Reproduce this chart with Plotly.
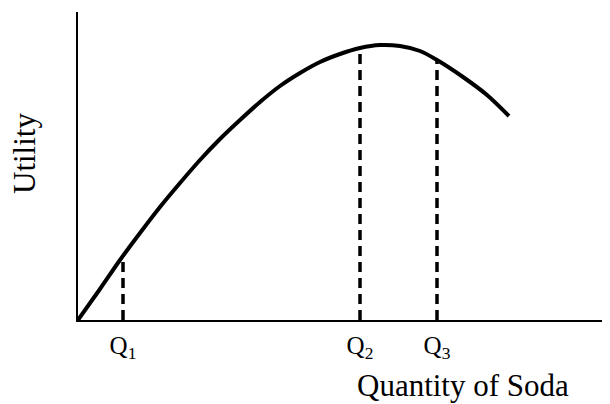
import plotly.graph_objects as go

# Utility curve (quantity vs utility, in chart units)
quantity = [0, 22, 42, 62, 82, 102, 122, 142, 162, 182, 202, 222, 242, 262, 282,
            302, 322, 342, 359, 385, 409, 431]
utility = [0, 31, 60, 87, 113, 137, 160, 181, 200, 218, 234, 247, 258, 266, 272,
           275, 274, 269, 260, 243, 225, 204]

# Marked quantities and the utility at each
q_x = [45, 282, 359]
q_u = [62, 272, 260]
q_labels = ["Q<sub>1</sub>", "Q<sub>2</sub>", "Q<sub>3</sub>"]

serif = "Liberation Serif, Times New Roman, serif"

fig = go.Figure()

# dashed drop lines
for qx, qu in zip(q_x, q_u):
    fig.add_trace(go.Scatter(x=[qx, qx], y=[0, qu], mode="lines",
                             line=dict(color="black", width=3.5, dash="10px,6px"),
                             hoverinfo="skip", showlegend=False))

fig.add_trace(go.Scatter(x=quantity, y=utility, mode="lines",
                         line=dict(color="black", width=4, shape="spline", smoothing=0.8),
                         showlegend=False))

# page body adds 8px, so the figure is a little smaller than the window
fig.update_layout(
    width=602, height=396,
    margin=dict(l=70, r=2, t=4, b=84),
    paper_bgcolor="white", plot_bgcolor="white",
    font=dict(family=serif, color="black"),
    xaxis=dict(range=[0, 530], showgrid=False, zeroline=False,
               showline=True, linecolor="black", linewidth=2,
               tickvals=q_x, ticktext=q_labels, ticks="",
               tickfont=dict(size=25, family=serif), ticklabelstandoff=2),
    yaxis=dict(range=[0, 308], showgrid=False, zeroline=False,
               showline=True, linecolor="black", linewidth=2,
               showticklabels=False, ticks=""),
)

fig.add_annotation(x=0.726, y=-0.212, xref="paper", yref="paper", showarrow=False,
                   xanchor="center", yanchor="middle",
                   text="Quantity of Soda", font=dict(size=31, family=serif))
fig.add_annotation(x=-0.1, y=0.539, xref="paper", yref="paper", showarrow=False,
                   xanchor="center", yanchor="middle",
                   text="Utility", textangle=-90, font=dict(size=31, family=serif))

fig.write_html("out.html")
